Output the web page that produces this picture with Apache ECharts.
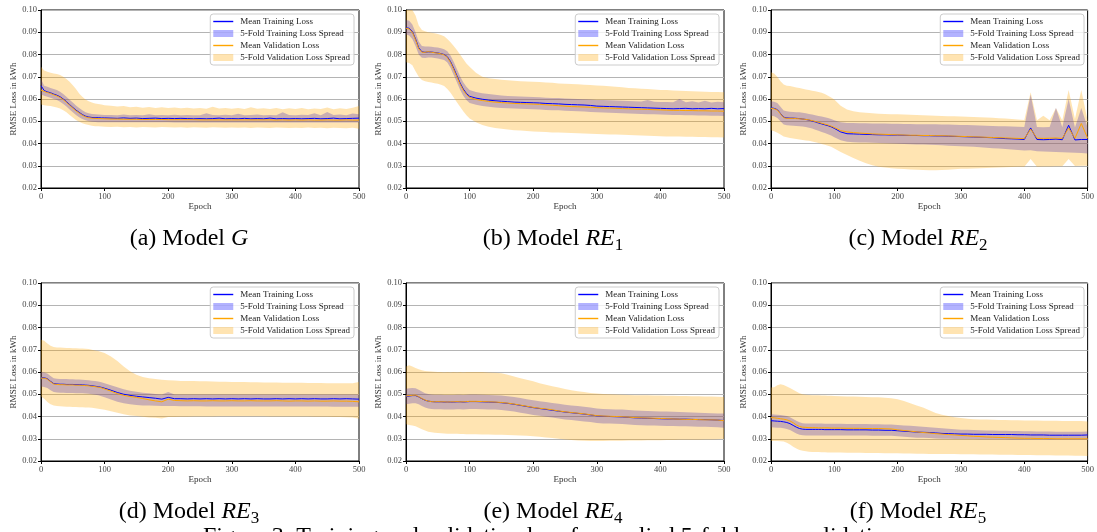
<!DOCTYPE html>
<html>
<head>
<meta charset="utf-8">
<script src="https://cdn.jsdelivr.net/npm/echarts@6/dist/echarts.min.js"></script>
<style>
    html, body {margin: 0; padding: 0; background: #fff;}
    #chart {width: 1097px; height: 532px;}
</style>
</head>
<body>
<div id="chart"></div>
<script>
// epochs sampled for every panel
const epochs = [0,5,10,15,20,25,30,35,40,45,50,55,60,65,70,75,80,85,90,95,100,
    110,120,130,140,150,160,170,180,190,200,210,220,230,240,250,260,270,280,290,300,
    310,320,330,340,350,360,370,380,390,400,410,420,430,440,450,460,470,480,490,500];

// (a) Model G
const gTrainMean = [0.0660,0.0638,0.0632,0.0628,0.0622,0.0617,0.0610,0.0600,0.0588,0.0575,0.0562,0.0550,0.0540,0.0530,0.0523,0.0519,0.0517,0.0516,0.0516,0.0515,0.0515,
    0.0514,0.0513,0.0515,0.0513,0.0514,0.0512,0.0513,0.0514,0.0512,0.0513,
    0.0512,0.0513,0.0512,0.0511,0.0512,0.0511,0.0512,0.0514,0.0511,0.0512,
    0.0511,0.0513,0.0511,0.0512,0.0511,0.0514,0.0511,0.0512,0.0511,0.0512,
    0.0511,0.0512,0.0513,0.0511,0.0512,0.0514,0.0511,0.0512,0.0513,0.0514];
const gTrainLo = [0.0620,0.0615,0.0610,0.0606,0.0600,0.0595,0.0588,0.0578,0.0566,0.0553,0.0540,0.0528,0.0518,0.0510,0.0504,0.0500,0.0498,0.0497,0.0496,0.0496,0.0496,
    0.0495,0.0495,0.0495,0.0495,0.0495,0.0495,0.0495,0.0495,0.0495,0.0495,
    0.0494,0.0494,0.0494,0.0494,0.0494,0.0494,0.0494,0.0494,0.0494,0.0494,
    0.0494,0.0494,0.0494,0.0494,0.0494,0.0494,0.0494,0.0494,0.0494,0.0494,
    0.0494,0.0494,0.0494,0.0494,0.0494,0.0494,0.0494,0.0494,0.0494,0.0494];
const gTrainHi = [0.0690,0.0660,0.0655,0.0650,0.0645,0.0640,0.0633,0.0622,0.0610,0.0597,0.0584,0.0571,0.0560,0.0549,0.0541,0.0536,0.0533,0.0531,0.0530,0.0529,0.0528,
    0.0528,0.0527,0.0530,0.0527,0.0528,0.0527,0.0532,0.0527,0.0528,0.0527,
    0.0529,0.0527,0.0528,0.0527,0.0527,0.0536,0.0528,0.0527,0.0529,0.0527,
    0.0534,0.0527,0.0528,0.0530,0.0527,0.0528,0.0527,0.0540,0.0528,0.0527,
    0.0529,0.0528,0.0536,0.0527,0.0542,0.0528,0.0530,0.0527,0.0535,0.0532];
const gValMean = [0.0640,0.0634,0.0629,0.0625,0.0619,0.0614,0.0607,0.0597,0.0585,0.0572,0.0559,0.0547,0.0537,0.0527,0.0520,0.0516,0.0514,0.0513,0.0512,0.0512,0.0511,
    0.0510,0.0510,0.0509,0.0509,0.0509,0.0508,0.0508,0.0508,0.0508,0.0507,
    0.0507,0.0507,0.0507,0.0507,0.0506,0.0506,0.0506,0.0506,0.0506,0.0506,
    0.0506,0.0506,0.0506,0.0506,0.0506,0.0506,0.0505,0.0506,0.0505,0.0506,
    0.0505,0.0506,0.0505,0.0505,0.0506,0.0505,0.0505,0.0506,0.0505,0.0505];
const gValLo = [0.0575,0.0572,0.0570,0.0568,0.0565,0.0562,0.0557,0.0550,0.0540,0.0528,0.0517,0.0506,0.0498,0.0491,0.0486,0.0483,0.0480,0.0478,0.0477,0.0476,0.0475,
    0.0474,0.0475,0.0473,0.0474,0.0472,0.0474,0.0473,0.0472,0.0474,0.0473,
    0.0472,0.0473,0.0471,0.0473,0.0472,0.0471,0.0473,0.0472,0.0471,0.0472,
    0.0471,0.0472,0.0470,0.0472,0.0471,0.0470,0.0472,0.0471,0.0470,0.0471,
    0.0470,0.0472,0.0470,0.0471,0.0469,0.0471,0.0470,0.0469,0.0471,0.0466];
const gValHi = [0.0745,0.0728,0.0722,0.0718,0.0715,0.0712,0.0708,0.0700,0.0690,0.0678,0.0662,0.0645,0.0625,0.0610,0.0598,0.0590,0.0584,0.0580,0.0577,0.0575,0.0572,
    0.0570,0.0566,0.0568,0.0563,0.0565,0.0561,0.0564,0.0560,0.0563,0.0559,
    0.0562,0.0558,0.0561,0.0557,0.0560,0.0556,0.0565,0.0557,0.0559,0.0556,
    0.0560,0.0555,0.0563,0.0556,0.0558,0.0555,0.0560,0.0554,0.0558,0.0555,
    0.0560,0.0554,0.0557,0.0555,0.0562,0.0554,0.0558,0.0555,0.0561,0.0568];

// (b) Model RE1
const re1TrainMean = [0.0920,0.0918,0.0903,0.0870,0.0830,0.0812,0.0810,0.0812,0.0811,0.0809,0.0807,0.0804,0.0800,0.0790,0.0768,0.0738,0.0705,0.0672,0.0645,0.0625,0.0612,
    0.0604,0.0599,0.0595,0.0592,0.0590,0.0588,0.0586,0.0585,0.0584,0.0583,
    0.0582,0.0580,0.0579,0.0578,0.0576,0.0575,0.0574,0.0573,0.0571,0.0568,
    0.0567,0.0566,0.0565,0.0564,0.0563,0.0562,0.0561,0.0560,0.0559,0.0558,
    0.0557,0.0556,0.0557,0.0558,0.0556,0.0557,0.0556,0.0558,0.0556,0.0557];
const re1TrainLo = [0.0890,0.0885,0.0870,0.0838,0.0800,0.0785,0.0784,0.0786,0.0786,0.0784,0.0782,0.0779,0.0775,0.0764,0.0740,0.0708,0.0675,0.0642,0.0615,0.0595,0.0582,
    0.0574,0.0569,0.0565,0.0562,0.0560,0.0558,0.0557,0.0556,0.0555,0.0554,
    0.0553,0.0551,0.0550,0.0549,0.0547,0.0546,0.0545,0.0544,0.0542,0.0540,
    0.0539,0.0538,0.0537,0.0536,0.0535,0.0534,0.0533,0.0532,0.0531,0.0530,
    0.0529,0.0528,0.0528,0.0527,0.0527,0.0526,0.0526,0.0525,0.0525,0.0524];
const re1TrainHi = [0.0955,0.0952,0.0935,0.0900,0.0858,0.0838,0.0836,0.0836,0.0835,0.0833,0.0831,0.0828,0.0824,0.0815,0.0795,0.0767,0.0735,0.0702,0.0675,0.0655,0.0641,
    0.0632,0.0626,0.0622,0.0619,0.0616,0.0614,0.0612,0.0611,0.0610,0.0609,
    0.0608,0.0606,0.0605,0.0604,0.0602,0.0601,0.0600,0.0599,0.0598,0.0596,
    0.0595,0.0594,0.0593,0.0592,0.0591,0.0590,0.0589,0.0596,0.0588,0.0587,
    0.0586,0.0585,0.0600,0.0585,0.0590,0.0584,0.0592,0.0584,0.0588,0.0585];
const re1ValMean = [0.0918,0.0915,0.0900,0.0866,0.0826,0.0810,0.0810,0.0813,0.0810,0.0808,0.0806,0.0803,0.0798,0.0787,0.0764,0.0733,0.0700,0.0667,0.0640,0.0620,0.0607,
    0.0598,0.0593,0.0589,0.0586,0.0584,0.0582,0.0580,0.0579,0.0578,0.0577,
    0.0576,0.0574,0.0572,0.0570,0.0568,0.0566,0.0565,0.0564,0.0563,0.0561,
    0.0560,0.0559,0.0558,0.0557,0.0556,0.0555,0.0554,0.0553,0.0552,0.0551,
    0.0550,0.0549,0.0549,0.0548,0.0548,0.0547,0.0547,0.0546,0.0546,0.0545];
const re1ValLo = [0.0765,0.0762,0.0752,0.0725,0.0700,0.0685,0.0680,0.0676,0.0674,0.0671,0.0668,0.0664,0.0658,0.0645,0.0628,0.0607,0.0585,0.0565,0.0545,0.0527,0.0512,
    0.0495,0.0483,0.0475,0.0470,0.0466,0.0463,0.0460,0.0458,0.0456,0.0454,
    0.0453,0.0452,0.0450,0.0449,0.0448,0.0447,0.0446,0.0445,0.0444,0.0443,
    0.0442,0.0441,0.0440,0.0439,0.0438,0.0437,0.0436,0.0435,0.0434,0.0433,
    0.0432,0.0431,0.0431,0.0430,0.0430,0.0429,0.0429,0.0428,0.0428,0.0427];
const re1ValHi = [0.1010,0.1010,0.1000,0.0975,0.0930,0.0910,0.0905,0.0900,0.0898,0.0895,0.0892,0.0888,0.0882,0.0870,0.0855,0.0838,0.0820,0.0800,0.0780,0.0760,0.0745,
    0.0718,0.0700,0.0693,0.0690,0.0686,0.0684,0.0682,0.0680,0.0679,0.0677,
    0.0676,0.0674,0.0673,0.0670,0.0669,0.0667,0.0666,0.0664,0.0663,0.0661,
    0.0660,0.0657,0.0655,0.0653,0.0650,0.0648,0.0646,0.0645,0.0643,0.0641,
    0.0640,0.0638,0.0637,0.0636,0.0635,0.0634,0.0633,0.0632,0.0631,0.0630];

// (c) Model RE2
const re2TrainMean = [0.0560,0.0558,0.0552,0.0535,0.0518,0.0515,0.0514,0.0514,0.0513,0.0512,0.0510,0.0508,0.0505,0.0501,0.0497,0.0492,0.0488,0.0484,0.0480,0.0475,0.0468,
    0.0452,0.0444,0.0443,0.0442,0.0441,0.0440,0.0439,0.0439,0.0438,0.0438,
    0.0437,0.0436,0.0436,0.0435,0.0435,0.0434,0.0434,0.0433,0.0432,0.0431,
    0.0430,0.0429,0.0428,0.0427,0.0426,0.0424,0.0422,0.0421,0.0420,0.0418,
    0.0470,0.0418,0.0417,0.0418,0.0420,0.0417,0.0482,0.0416,0.0418,0.0418];
const re2TrainLo = [0.0525,0.0522,0.0515,0.0500,0.0485,0.0482,0.0481,0.0480,0.0479,0.0478,0.0476,0.0474,0.0471,0.0467,0.0462,0.0457,0.0452,0.0447,0.0442,0.0436,0.0428,
    0.0415,0.0408,0.0406,0.0405,0.0404,0.0403,0.0402,0.0401,0.0400,0.0399,
    0.0398,0.0397,0.0396,0.0395,0.0394,0.0393,0.0392,0.0390,0.0389,0.0388,
    0.0386,0.0385,0.0383,0.0381,0.0379,0.0377,0.0375,0.0373,0.0371,0.0369,
    0.0370,0.0365,0.0364,0.0363,0.0362,0.0361,0.0360,0.0358,0.0357,0.0355];
const re2TrainHi = [0.0590,0.0588,0.0582,0.0565,0.0548,0.0545,0.0543,0.0542,0.0541,0.0540,0.0538,0.0536,0.0533,0.0530,0.0527,0.0524,0.0521,0.0518,0.0515,0.0510,0.0504,
    0.0495,0.0492,0.0492,0.0491,0.0491,0.0490,0.0490,0.0490,0.0489,0.0489,
    0.0488,0.0488,0.0487,0.0487,0.0486,0.0486,0.0485,0.0485,0.0484,0.0483,
    0.0483,0.0482,0.0481,0.0480,0.0479,0.0478,0.0477,0.0476,0.0475,0.0474,
    0.0620,0.0474,0.0473,0.0474,0.0560,0.0473,0.0600,0.0472,0.0560,0.0472];
const re2ValMean = [0.0558,0.0556,0.0550,0.0533,0.0516,0.0513,0.0513,0.0513,0.0512,0.0511,0.0510,0.0508,0.0506,0.0503,0.0499,0.0495,0.0491,0.0487,0.0483,0.0478,0.0472,
    0.0458,0.0452,0.0449,0.0447,0.0445,0.0443,0.0442,0.0441,0.0440,0.0439,
    0.0438,0.0437,0.0437,0.0436,0.0436,0.0435,0.0435,0.0434,0.0433,0.0432,
    0.0431,0.0430,0.0429,0.0428,0.0427,0.0426,0.0425,0.0424,0.0423,0.0422,
    0.0465,0.0424,0.0423,0.0424,0.0425,0.0423,0.0470,0.0423,0.0490,0.0424];
const re2ValLo = [0.0460,0.0455,0.0448,0.0440,0.0432,0.0428,0.0425,0.0422,0.0420,0.0418,0.0416,0.0414,0.0412,0.0409,0.0406,0.0402,0.0398,0.0394,0.0390,0.0385,0.0378,
    0.0362,0.0348,0.0335,0.0322,0.0311,0.0302,0.0296,0.0292,0.0289,0.0287,
    0.0285,0.0283,0.0282,0.0281,0.0280,0.0280,0.0281,0.0282,0.0284,0.0286,
    0.0287,0.0288,0.0289,0.0290,0.0291,0.0292,0.0293,0.0294,0.0295,0.0296,
    0.0330,0.0296,0.0297,0.0297,0.0298,0.0298,0.0330,0.0299,0.0300,0.0300];
const re2ValHi = [0.0720,0.0715,0.0700,0.0680,0.0665,0.0660,0.0658,0.0655,0.0652,0.0649,0.0646,0.0643,0.0640,0.0637,0.0635,0.0632,0.0628,0.0622,0.0615,0.0607,0.0598,
    0.0570,0.0553,0.0545,0.0541,0.0538,0.0536,0.0534,0.0533,0.0532,0.0531,
    0.0530,0.0529,0.0528,0.0527,0.0526,0.0525,0.0524,0.0523,0.0522,0.0521,
    0.0520,0.0519,0.0518,0.0517,0.0516,0.0514,0.0512,0.0510,0.0508,0.0506,
    0.0630,0.0505,0.0525,0.0504,0.0560,0.0503,0.0640,0.0510,0.0640,0.0502];

// (d) Model RE3
const re3TrainMean = [0.0575,0.0574,0.0570,0.0558,0.0548,0.0546,0.0545,0.0545,0.0544,0.0544,0.0544,0.0543,0.0543,0.0542,0.0541,0.0540,0.0538,0.0536,0.0534,0.0531,0.0527,
    0.0518,0.0508,0.0500,0.0495,0.0491,0.0488,0.0485,0.0482,0.0478,0.0486,
    0.0480,0.0480,0.0479,0.0480,0.0479,0.0480,0.0479,0.0480,0.0479,0.0480,
    0.0479,0.0480,0.0479,0.0480,0.0479,0.0479,0.0480,0.0479,0.0480,0.0479,
    0.0480,0.0479,0.0480,0.0479,0.0479,0.0480,0.0479,0.0480,0.0479,0.0478];
const re3TrainLo = [0.0535,0.0533,0.0528,0.0518,0.0510,0.0508,0.0507,0.0507,0.0506,0.0506,0.0506,0.0505,0.0505,0.0504,0.0503,0.0502,0.0500,0.0498,0.0495,0.0491,0.0486,
    0.0476,0.0466,0.0459,0.0455,0.0452,0.0450,0.0449,0.0448,0.0447,0.0447,
    0.0447,0.0446,0.0446,0.0446,0.0446,0.0445,0.0445,0.0445,0.0445,0.0445,
    0.0445,0.0445,0.0445,0.0445,0.0445,0.0445,0.0445,0.0445,0.0445,0.0445,
    0.0445,0.0445,0.0445,0.0445,0.0445,0.0444,0.0444,0.0444,0.0444,0.0444];
const re3TrainHi = [0.0600,0.0598,0.0593,0.0582,0.0572,0.0570,0.0569,0.0568,0.0568,0.0567,0.0567,0.0566,0.0566,0.0565,0.0564,0.0563,0.0561,0.0559,0.0557,0.0554,0.0550,
    0.0541,0.0531,0.0522,0.0516,0.0511,0.0507,0.0504,0.0501,0.0499,0.0510,
    0.0499,0.0499,0.0499,0.0499,0.0499,0.0499,0.0499,0.0499,0.0499,0.0499,
    0.0499,0.0499,0.0499,0.0499,0.0499,0.0499,0.0499,0.0499,0.0499,0.0499,
    0.0499,0.0499,0.0499,0.0499,0.0499,0.0499,0.0499,0.0499,0.0499,0.0499];
const re3ValMean = [0.0573,0.0572,0.0568,0.0556,0.0546,0.0544,0.0543,0.0543,0.0542,0.0542,0.0542,0.0541,0.0541,0.0540,0.0539,0.0538,0.0536,0.0534,0.0532,0.0529,0.0524,
    0.0514,0.0503,0.0495,0.0490,0.0486,0.0481,0.0475,0.0470,0.0466,0.0478,
    0.0472,0.0471,0.0470,0.0471,0.0470,0.0470,0.0471,0.0470,0.0470,0.0471,
    0.0470,0.0470,0.0471,0.0470,0.0470,0.0470,0.0471,0.0470,0.0469,0.0470,
    0.0470,0.0469,0.0470,0.0469,0.0469,0.0470,0.0469,0.0469,0.0468,0.0466];
const re3ValLo = [0.0490,0.0480,0.0465,0.0455,0.0450,0.0447,0.0446,0.0445,0.0444,0.0444,0.0443,0.0443,0.0442,0.0442,0.0441,0.0440,0.0439,0.0437,0.0435,0.0433,0.0430,
    0.0424,0.0417,0.0410,0.0405,0.0402,0.0399,0.0396,0.0394,0.0391,0.0398,
    0.0398,0.0399,0.0399,0.0400,0.0400,0.0400,0.0400,0.0401,0.0401,0.0401,
    0.0401,0.0401,0.0401,0.0401,0.0401,0.0400,0.0400,0.0400,0.0400,0.0400,
    0.0400,0.0400,0.0399,0.0399,0.0399,0.0398,0.0398,0.0397,0.0396,0.0390];
const re3ValHi = [0.0745,0.0740,0.0728,0.0718,0.0712,0.0710,0.0710,0.0709,0.0708,0.0708,0.0707,0.0707,0.0706,0.0706,0.0705,0.0703,0.0700,0.0697,0.0694,0.0690,0.0685,
    0.0670,0.0650,0.0625,0.0603,0.0588,0.0578,0.0572,0.0568,0.0565,0.0563,
    0.0562,0.0560,0.0560,0.0559,0.0558,0.0558,0.0557,0.0556,0.0556,0.0555,
    0.0555,0.0555,0.0554,0.0554,0.0553,0.0553,0.0553,0.0552,0.0552,0.0552,
    0.0552,0.0551,0.0551,0.0551,0.0550,0.0550,0.0550,0.0550,0.0550,0.0555];

// (e) Model RE4
const re4TrainMean = [0.0490,0.0492,0.0494,0.0494,0.0488,0.0480,0.0473,0.0469,0.0467,0.0466,0.0466,0.0466,0.0465,0.0465,0.0465,0.0465,0.0466,0.0466,0.0465,0.0466,0.0467,
    0.0467,0.0466,0.0465,0.0464,0.0462,0.0459,0.0455,0.0450,0.0445,0.0440,
    0.0436,0.0432,0.0428,0.0424,0.0420,0.0417,0.0414,0.0411,0.0407,0.0403,
    0.0401,0.0400,0.0399,0.0398,0.0396,0.0394,0.0393,0.0392,0.0391,0.0390,
    0.0389,0.0389,0.0388,0.0388,0.0387,0.0386,0.0386,0.0385,0.0384,0.0382];
const re4TrainLo = [0.0455,0.0457,0.0459,0.0460,0.0455,0.0447,0.0440,0.0436,0.0434,0.0433,0.0433,0.0433,0.0432,0.0432,0.0432,0.0432,0.0433,0.0433,0.0432,0.0433,0.0434,
    0.0434,0.0433,0.0432,0.0431,0.0429,0.0426,0.0422,0.0417,0.0412,0.0407,
    0.0403,0.0399,0.0395,0.0391,0.0387,0.0384,0.0381,0.0378,0.0375,0.0371,
    0.0369,0.0368,0.0367,0.0366,0.0364,0.0362,0.0361,0.0360,0.0359,0.0358,
    0.0357,0.0357,0.0356,0.0356,0.0355,0.0354,0.0354,0.0353,0.0352,0.0350];
const re4TrainHi = [0.0525,0.0527,0.0528,0.0527,0.0520,0.0512,0.0505,0.0501,0.0499,0.0498,0.0498,0.0498,0.0497,0.0497,0.0497,0.0497,0.0498,0.0498,0.0497,0.0498,0.0499,
    0.0499,0.0498,0.0497,0.0496,0.0494,0.0491,0.0488,0.0483,0.0478,0.0473,
    0.0469,0.0465,0.0461,0.0457,0.0453,0.0450,0.0447,0.0444,0.0440,0.0436,
    0.0434,0.0433,0.0432,0.0431,0.0429,0.0427,0.0426,0.0425,0.0424,0.0423,
    0.0422,0.0421,0.0420,0.0419,0.0418,0.0417,0.0416,0.0415,0.0414,0.0413];
const re4ValMean = [0.0492,0.0494,0.0495,0.0496,0.0489,0.0481,0.0474,0.0469,0.0467,0.0466,0.0467,0.0466,0.0466,0.0465,0.0466,0.0466,0.0467,0.0466,0.0466,0.0467,0.0468,
    0.0468,0.0467,0.0466,0.0465,0.0463,0.0460,0.0456,0.0451,0.0446,0.0441,
    0.0437,0.0434,0.0430,0.0425,0.0421,0.0418,0.0415,0.0412,0.0408,0.0404,
    0.0402,0.0401,0.0400,0.0399,0.0397,0.0395,0.0394,0.0393,0.0392,0.0391,
    0.0390,0.0389,0.0388,0.0387,0.0387,0.0386,0.0385,0.0385,0.0384,0.0381];
const re4ValLo = [0.0365,0.0362,0.0360,0.0356,0.0350,0.0343,0.0337,0.0332,0.0329,0.0327,0.0326,0.0325,0.0324,0.0323,0.0323,0.0322,0.0322,0.0321,0.0321,0.0320,0.0320,
    0.0320,0.0319,0.0319,0.0318,0.0318,0.0317,0.0316,0.0315,0.0313,0.0311,
    0.0309,0.0306,0.0303,0.0300,0.0297,0.0294,0.0292,0.0291,0.0290,0.0290,
    0.0290,0.0291,0.0291,0.0291,0.0292,0.0292,0.0292,0.0293,0.0293,0.0293,
    0.0294,0.0294,0.0295,0.0295,0.0296,0.0296,0.0297,0.0297,0.0298,0.0300];
const re4ValHi = [0.0625,0.0630,0.0625,0.0618,0.0612,0.0608,0.0605,0.0603,0.0602,0.0601,0.0600,0.0600,0.0599,0.0600,0.0599,0.0600,0.0599,0.0600,0.0599,0.0600,0.0600,
    0.0600,0.0600,0.0598,0.0597,0.0594,0.0588,0.0580,0.0572,0.0565,0.0558,
    0.0550,0.0543,0.0536,0.0530,0.0524,0.0518,0.0514,0.0510,0.0506,0.0503,
    0.0501,0.0500,0.0499,0.0498,0.0497,0.0496,0.0495,0.0495,0.0494,0.0494,
    0.0493,0.0493,0.0492,0.0492,0.0491,0.0491,0.0490,0.0490,0.0489,0.0488];

// (f) Model RE5
const re5TrainMean = [0.0381,0.0380,0.0379,0.0378,0.0376,0.0373,0.0368,0.0360,0.0352,0.0346,0.0343,0.0342,0.0342,0.0342,0.0342,0.0342,0.0342,0.0341,0.0341,0.0341,0.0341,
    0.0341,0.0340,0.0340,0.0340,0.0340,0.0339,0.0339,0.0338,0.0338,0.0336,
    0.0334,0.0332,0.0330,0.0329,0.0328,0.0326,0.0324,0.0323,0.0322,0.0321,
    0.0321,0.0320,0.0320,0.0320,0.0319,0.0319,0.0319,0.0319,0.0318,0.0318,
    0.0317,0.0317,0.0317,0.0316,0.0316,0.0316,0.0316,0.0316,0.0316,0.0317];
const re5TrainLo = [0.0352,0.0351,0.0350,0.0349,0.0347,0.0344,0.0339,0.0331,0.0324,0.0318,0.0316,0.0315,0.0315,0.0315,0.0315,0.0315,0.0315,0.0315,0.0315,0.0315,0.0315,
    0.0315,0.0315,0.0315,0.0315,0.0315,0.0314,0.0314,0.0313,0.0313,0.0311,
    0.0309,0.0307,0.0305,0.0304,0.0303,0.0301,0.0300,0.0300,0.0299,0.0299,
    0.0299,0.0299,0.0298,0.0298,0.0298,0.0298,0.0298,0.0297,0.0297,0.0297,
    0.0297,0.0297,0.0297,0.0296,0.0296,0.0296,0.0296,0.0296,0.0296,0.0296];
const re5TrainHi = [0.0410,0.0409,0.0408,0.0407,0.0405,0.0402,0.0397,0.0389,0.0381,0.0374,0.0370,0.0369,0.0368,0.0368,0.0368,0.0368,0.0368,0.0367,0.0367,0.0367,0.0367,
    0.0367,0.0366,0.0366,0.0366,0.0366,0.0365,0.0365,0.0364,0.0364,0.0362,
    0.0360,0.0358,0.0356,0.0354,0.0352,0.0350,0.0347,0.0345,0.0343,0.0341,
    0.0340,0.0339,0.0338,0.0337,0.0337,0.0336,0.0336,0.0335,0.0335,0.0334,
    0.0334,0.0333,0.0333,0.0333,0.0332,0.0332,0.0332,0.0332,0.0332,0.0333];
const re5ValMean = [0.0395,0.0394,0.0392,0.0390,0.0388,0.0385,0.0380,0.0372,0.0362,0.0355,0.0352,0.0351,0.0350,0.0350,0.0350,0.0349,0.0349,0.0349,0.0349,0.0348,0.0348,
    0.0348,0.0347,0.0347,0.0347,0.0346,0.0346,0.0346,0.0345,0.0344,0.0340,
    0.0337,0.0334,0.0331,0.0328,0.0326,0.0323,0.0321,0.0319,0.0317,0.0315,
    0.0313,0.0311,0.0310,0.0308,0.0307,0.0306,0.0305,0.0304,0.0303,0.0302,
    0.0302,0.0301,0.0301,0.0301,0.0300,0.0300,0.0300,0.0300,0.0300,0.0300];
const re5ValLo = [0.0290,0.0290,0.0290,0.0289,0.0288,0.0282,0.0274,0.0264,0.0256,0.0250,0.0246,0.0244,0.0242,0.0241,0.0240,0.0240,0.0239,0.0239,0.0238,0.0238,0.0238,
    0.0238,0.0237,0.0237,0.0237,0.0236,0.0236,0.0236,0.0235,0.0235,0.0235,
    0.0234,0.0234,0.0233,0.0233,0.0232,0.0232,0.0231,0.0231,0.0231,0.0230,
    0.0230,0.0230,0.0229,0.0229,0.0229,0.0228,0.0228,0.0228,0.0227,0.0227,
    0.0227,0.0226,0.0226,0.0226,0.0225,0.0225,0.0225,0.0224,0.0224,0.0222];
const re5ValHi = [0.0530,0.0532,0.0540,0.0545,0.0542,0.0535,0.0528,0.0520,0.0512,0.0505,0.0500,0.0498,0.0497,0.0496,0.0495,0.0495,0.0494,0.0494,0.0493,0.0493,0.0492,
    0.0491,0.0490,0.0490,0.0489,0.0488,0.0487,0.0486,0.0484,0.0482,0.0478,
    0.0470,0.0460,0.0450,0.0440,0.0428,0.0416,0.0408,0.0402,0.0397,0.0393,
    0.0390,0.0388,0.0387,0.0386,0.0385,0.0384,0.0384,0.0383,0.0383,0.0382,
    0.0382,0.0382,0.0381,0.0381,0.0381,0.0380,0.0380,0.0380,0.0380,0.0378];

const legendNames = ['Mean Training Loss', '5-Fold Training Loss Spread', 'Mean Validation Loss', '5-Fold Validation Loss Spread'];
const figureCaption = 'Figure 3: Training and validation loss for applied 5-fold cross validation';

const panels = [
    {caption: '{n|(a) Model }{i|G}', tm: gTrainMean, tl: gTrainLo, th: gTrainHi, vm: gValMean, vl: gValLo, vh: gValHi},
    {caption: '{n|(b) Model }{i|RE}{s|1}', tm: re1TrainMean, tl: re1TrainLo, th: re1TrainHi, vm: re1ValMean, vl: re1ValLo, vh: re1ValHi},
    {caption: '{n|(c) Model }{i|RE}{s|2}', tm: re2TrainMean, tl: re2TrainLo, th: re2TrainHi, vm: re2ValMean, vl: re2ValLo, vh: re2ValHi},
    {caption: '{n|(d) Model }{i|RE}{s|3}', tm: re3TrainMean, tl: re3TrainLo, th: re3TrainHi, vm: re3ValMean, vl: re3ValLo, vh: re3ValHi},
    {caption: '{n|(e) Model }{i|RE}{s|4}', tm: re4TrainMean, tl: re4TrainLo, th: re4TrainHi, vm: re4ValMean, vl: re4ValLo, vh: re4ValHi},
    {caption: '{n|(f) Model }{i|RE}{s|5}', tm: re5TrainMean, tl: re5TrainLo, th: re5TrainHi, vm: re5ValMean, vl: re5ValLo, vh: re5ValHi}
];

// layout
const W = 1097;
const colLeft = [41, 406, 771];
const rowTop = [10, 283];
const gridW = 318, gridH = 178;
const captionX = [189, 553, 918];
const captionY = [239, 512];

const SERIF = '"Liberation Serif", "Times New Roman", serif';
const TRAIN_FILL = 'rgba(0,0,255,0.3)';
const VAL_FILL = 'rgba(255,165,0,0.3)';
const LINE_ICON = 'path://M0,0H20V1.4H0Z';

function pts(ys) {
    return epochs.map((x, i) => [x, ys[i]]);
}

// filled band between lo and hi, drawn as one polygon through the axes
function bandSeries(k, lo, hi, color, name) {
    return {
        type: 'custom', name: name, xAxisIndex: k, yAxisIndex: k, silent: true,
        itemStyle: {color: color},
        data: [[epochs[0], lo[0]]],
        renderItem: function (params, api) {
            const cs = params.coordSys;
            const clampY = y => Math.max(cs.y, Math.min(cs.y + cs.height, y));
            const upper = epochs.map((x, i) => {
                const p = api.coord([x, hi[i]]);
                return [p[0], clampY(p[1])];
            });
            const lower = epochs.map((x, i) => {
                const p = api.coord([x, lo[i]]);
                return [p[0], clampY(p[1])];
            }).reverse();
            return {type: 'polygon', shape: {points: upper.concat(lower)}, style: {fill: color}};
        }
    };
}

const grids = [], xAxes = [], yAxes = [], series = [], legends = [], graphics = [];

panels.forEach((p, k) => {
    const c = k % 3, r = Math.floor(k / 3);
    grids.push({left: colLeft[c], top: rowTop[r], width: gridW, height: gridH, show: true, borderColor: '#000', borderWidth: 1});
    xAxes.push({
        type: 'value', gridIndex: k, min: 0, max: 500, interval: 100,
        name: 'Epoch', nameLocation: 'middle', nameGap: 11,
        nameTextStyle: {fontFamily: SERIF, fontSize: 9, color: '#333'},
        axisLine: {show: true, lineStyle: {color: '#000', width: 1}},
        axisTick: {show: true, length: 3, lineStyle: {color: '#000'}},
        axisLabel: {fontFamily: SERIF, fontSize: 8.5, color: '#444', margin: 4},
        splitLine: {show: false}
    });
    yAxes.push({
        type: 'value', gridIndex: k, min: 0.02, max: 0.10, interval: 0.01,
        name: 'RMSE Loss in kWh', nameLocation: 'middle', nameGap: 23,
        nameTextStyle: {fontFamily: SERIF, fontSize: 9, color: '#333'},
        axisLine: {show: true, lineStyle: {color: '#000', width: 1}},
        axisTick: {show: true, length: 3, lineStyle: {color: '#000'}},
        axisLabel: {fontFamily: SERIF, fontSize: 8.5, color: '#444', margin: 4, formatter: v => v.toFixed(2)},
        splitLine: {show: true, lineStyle: {color: '#b4b4b4', width: 1}}
    });

    const base = {type: 'line', xAxisIndex: k, yAxisIndex: k, symbol: 'none', silent: true};
    series.push(
        bandSeries(k, p.tl, p.th, TRAIN_FILL, legendNames[1]),
        bandSeries(k, p.vl, p.vh, VAL_FILL, legendNames[3]),
        Object.assign({}, base, {name: legendNames[0], data: pts(p.tm), lineStyle: {color: '#0000ff', width: 1}, itemStyle: {color: '#0000ff'}}),
        Object.assign({}, base, {name: legendNames[2], data: pts(p.vm), lineStyle: {color: '#ffa500', width: 1}, itemStyle: {color: '#ffa500'}})
    );

    legends.push({
        orient: 'vertical', right: W - (colLeft[c] + gridW - 5), top: rowTop[r] + 4,
        selectedMode: false, padding: [3, 4, 3, 3], itemGap: 3, itemWidth: 20, itemHeight: 7,
        symbolKeepAspect: true,
        backgroundColor: 'rgba(255,255,255,0.8)', borderColor: '#cccccc', borderWidth: 1, borderRadius: 3,
        textStyle: {fontFamily: SERIF, fontSize: 9, color: '#222', padding: [0, 0, 0, 2]},
        data: [
            {name: legendNames[0], icon: LINE_ICON, itemStyle: {color: '#0000ff'}},
            {name: legendNames[1], icon: 'rect', itemStyle: {color: TRAIN_FILL}},
            {name: legendNames[2], icon: LINE_ICON, itemStyle: {color: '#ffa500'}},
            {name: legendNames[3], icon: 'rect', itemStyle: {color: VAL_FILL}}
        ]
    });

    graphics.push({
        type: 'text', x: captionX[c], y: captionY[r], silent: true,
        style: {
            text: p.caption, align: 'center', verticalAlign: 'middle', fill: '#000',
            rich: {
                n: {fontFamily: SERIF, fontSize: 24, color: '#000'},
                i: {fontFamily: SERIF, fontSize: 24, fontStyle: 'italic', color: '#000'},
                s: {fontFamily: SERIF, fontSize: 17, color: '#000', padding: [13, 0, 0, 0]}
            }
        }
    });
});

graphics.push({
    type: 'text', x: 203, y: 525, silent: true,
    style: {text: figureCaption, fontFamily: SERIF, fontSize: 24, fill: '#000', verticalAlign: 'top'}
});

const chart = echarts.init(document.getElementById('chart'), null, {renderer: 'canvas'});
chart.setOption({
    animation: false,
    backgroundColor: '#fff',
    grid: grids,
    xAxis: xAxes,
    yAxis: yAxes,
    legend: legends,
    series: series,
    graphic: graphics
});
</script>
</body>
</html>
